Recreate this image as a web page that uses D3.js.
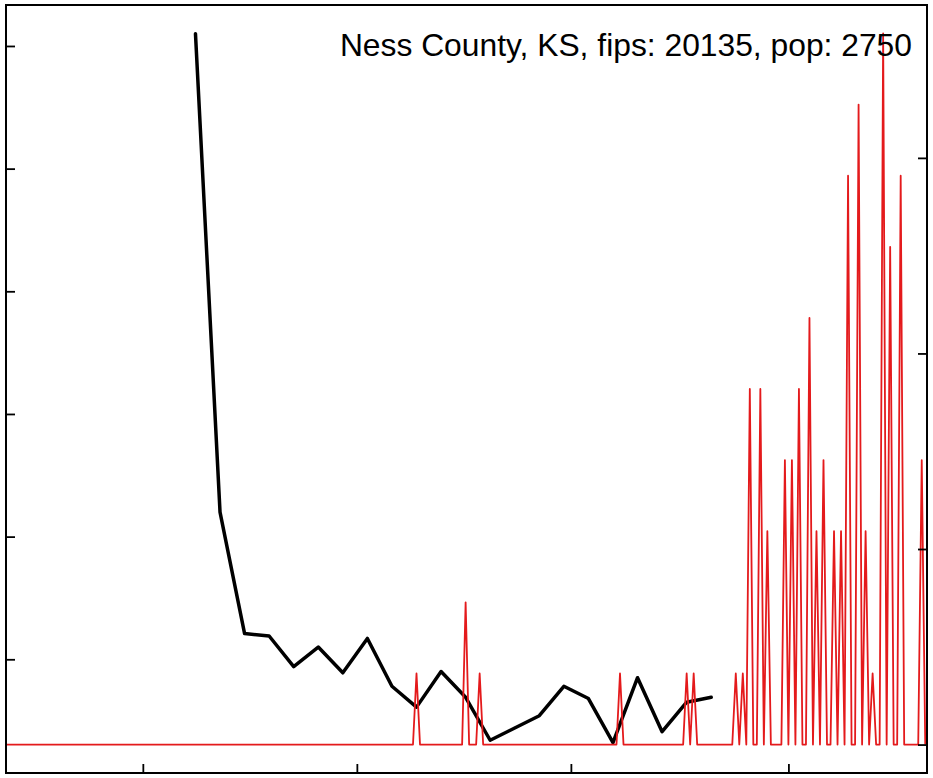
<!DOCTYPE html>
<html>
<head>
<meta charset="utf-8">
<script src="https://cdn.jsdelivr.net/npm/d3@7"></script>
<style>
  html, body { margin: 0; padding: 0; background: #fff; }
  svg { display: block; }
</style>
</head>
<body>
<svg id="chart" width="933" height="778"></svg>
<script>
// ---------------- data ----------------
const titleText = "Ness County, KS, fips: 20135, pop: 2750";
const population = 2750;

// daily new cases, one value per day starting at caseStart
const caseStart = "2020-01-22";
const dailyCases = [
  0,0,0,0,0,0,0,0,0,0, 0,0,0,0,0,0,0,0,0,0,
  0,0,0,0,0,0,0,0,0,0, 0,0,0,0,0,0,0,0,0,0,
  0,0,0,0,0,0,0,0,0,0, 0,0,0,0,0,0,0,0,0,0,
  0,0,0,0,0,0,0,0,0,0, 0,0,0,0,0,0,0,0,0,0,
  0,0,0,0,0,0,0,0,0,0, 0,0,0,0,0,0,0,0,0,0,
  0,0,0,0,0,0,0,0,0,0, 0,0,0,0,0,0,0,1,0,0,
  0,0,0,0,0,0,0,0,0,0, 0,2,0,0,0,1,0,0,0,0,
  0,0,0,0,0,0,0,0,0,0, 0,0,0,0,0,0,0,0,0,0,
  0,0,0,0,0,0,0,0,0,0, 0,0,0,0,0,1,0,0,0,0,
  0,0,0,0,0,0,0,0,0,0, 0,0,0,0,1,0,1,0,0,0,
  0,0,0,0,0,0,0,0,1,0, 1,0,5,0,0,5,0,3,0,0,
  0,0,4,0,4,0,5,0,0,6, 0,3,0,4,0,0,3,0,3,0,
  8,0,0,9,0,3,0,1,0,0, 10,0,7,0,0,8,0,0,0,0,
  0,4,0
];

// weekly black series
const weekDates = [
  "2020-03-16","2020-03-23","2020-03-30","2020-04-06","2020-04-13","2020-04-20",
  "2020-04-27","2020-05-04","2020-05-11","2020-05-18","2020-05-25","2020-06-01",
  "2020-06-08","2020-06-15","2020-06-22","2020-06-29","2020-07-06","2020-07-13",
  "2020-07-20","2020-07-27","2020-08-03","2020-08-10"
];
const weekValues = [
  61.0, 22.0, 12.1, 11.9, 9.4, 11.0, 8.9, 11.7, 7.8, 6.1, 9.0,
  6.9, 3.4, 4.4, 5.4, 7.8, 6.8, 3.2, 8.5, 4.1, 6.5, 6.9
];

const xTickDates = ["2020-03-01","2020-05-01","2020-07-01","2020-09-01"];
const leftTicks = [10, 20, 30, 40, 50, 60];
const rightTicks = [0, 100, 200, 300];

// ---------------- layout ----------------
const W = 933, H = 778;
const plot = { left: 6, top: 5, right: 927, bottom: 773 };
const parse = d3.utcParse("%Y-%m-%d");
const DAY = 864e5;

const t0 = parse(caseStart);
const caseSeries = dailyCases.map((c, i) => ({
  date: new Date(t0.getTime() + i * DAY),
  per100k: c / population * 1e5
}));
const weekSeries = weekDates.map((d, i) => ({ date: parse(d), value: weekValues[i] }));

const x = d3.scaleUtc()
  .domain([t0, new Date(t0.getTime() + 262.5 * DAY)])
  .range([plot.left, plot.right]);

const yL = d3.scaleLinear().domain([0.73, 63.34]).range([plot.bottom, plot.top]);

const maxR = d3.max(caseSeries, d => d.per100k);
const yR = d3.scaleLinear().domain([-0.04 * maxR, maxR * 1.04]).range([plot.bottom, plot.top]);

const svg = d3.select("#chart");
svg.append("rect").attr("width", W).attr("height", H).attr("fill", "#fff");

svg.append("defs").append("clipPath").attr("id", "clip")
  .append("rect")
  .attr("x", plot.left).attr("y", plot.top)
  .attr("width", plot.right - plot.left).attr("height", plot.bottom - plot.top);

const g = svg.append("g").attr("clip-path", "url(#clip)");

// black weekly line
g.append("path")
  .datum(weekSeries)
  .attr("fill", "none")
  .attr("stroke", "#000")
  .attr("stroke-width", 3.5)
  .attr("stroke-linejoin", "round")
  .attr("stroke-linecap", "round")
  .attr("d", d3.line().x(d => x(d.date)).y(d => yL(d.value)));

// red daily line
g.append("path")
  .datum(caseSeries)
  .attr("fill", "none")
  .attr("stroke", "#e41a1c")
  .attr("stroke-width", 1.8)
  .attr("stroke-linejoin", "round")
  .attr("d", d3.line().x(d => x(d.date)).y(d => yR(d.per100k)));

// axes (ticks inward, no labels)
const tickLen = 9;
const axB = svg.append("g").attr("transform", `translate(0,${plot.bottom})`)
  .call(d3.axisTop(x).tickValues(xTickDates.map(parse)).tickSize(tickLen).tickFormat(""));
const axL = svg.append("g").attr("transform", `translate(${plot.left},0)`)
  .call(d3.axisRight(yL).tickValues(leftTicks).tickSize(tickLen).tickFormat(""));
const axR = svg.append("g").attr("transform", `translate(${plot.right},0)`)
  .call(d3.axisLeft(yR).tickValues(rightTicks).tickSize(tickLen).tickFormat(""));
[axB, axL, axR].forEach(a => {
  a.select(".domain").remove();
  a.selectAll(".tick line").attr("stroke", "#000").attr("stroke-width", 1.8);
});

// box
svg.append("rect")
  .attr("x", plot.left).attr("y", plot.top)
  .attr("width", plot.right - plot.left).attr("height", plot.bottom - plot.top)
  .attr("fill", "none").attr("stroke", "#000").attr("stroke-width", 2);

// title
svg.append("text")
  .attr("x", 912).attr("y", 56)
  .attr("text-anchor", "end")
  .attr("font-family", "'Liberation Sans', Arial, Helvetica, sans-serif")
  .attr("font-size", 31.8)
  .attr("fill", "#000")
  .text(titleText);
</script>
</body>
</html>
